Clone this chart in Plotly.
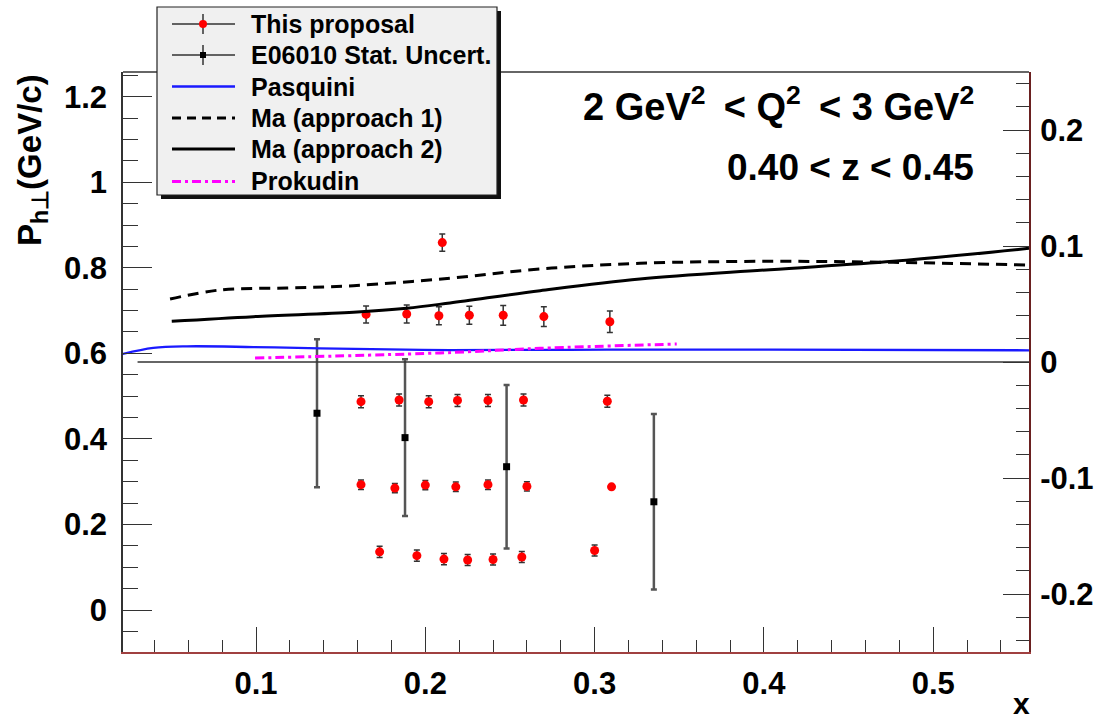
import plotly.graph_objects as go

# ---------------- data ----------------
# "This proposal" projected points (x, P_h_perp, uncertainty)
prop_x = [0.210,
          0.165, 0.189, 0.208, 0.226, 0.246, 0.270, 0.309,
          0.162, 0.1845, 0.202, 0.219, 0.237, 0.258, 0.3075,
          0.162, 0.182, 0.200, 0.218, 0.237, 0.260, 0.310,
          0.173, 0.195, 0.211, 0.225, 0.240, 0.257, 0.300]
prop_y = [0.859,
          0.691, 0.692, 0.688, 0.689, 0.689, 0.686, 0.674,
          0.487, 0.491, 0.487, 0.490, 0.490, 0.491, 0.488,
          0.293, 0.285, 0.292, 0.288, 0.293, 0.289, 0.288,
          0.136, 0.127, 0.119, 0.117, 0.118, 0.124, 0.139]
prop_err = [0.020,
            0.020, 0.021, 0.021, 0.021, 0.023, 0.023, 0.025,
            0.014, 0.014, 0.014, 0.014, 0.014, 0.014, 0.014,
            0.011, 0.011, 0.011, 0.011, 0.011, 0.011, 0.0,
            0.013, 0.013, 0.013, 0.013, 0.013, 0.013, 0.013]

# E06010 statistical uncertainty points
e06_x = [0.136, 0.188, 0.248, 0.335]
e06_y = [0.460, 0.403, 0.335, 0.253]
e06_err = [0.173, 0.183, 0.191, 0.205]

# model curves (right axis: asymmetry)
pasq_x = [0.0213, 0.0393, 0.0591, 0.0984, 0.1378, 0.2146, 0.3072, 0.4036, 0.5566]
pasq_y = [0.0069, 0.0121, 0.0135, 0.0129, 0.0118, 0.0103, 0.0106, 0.0106, 0.0101]

ma1_x = [0.0492, 0.0787, 0.1181, 0.1575, 0.2146, 0.2678, 0.3268, 0.4036, 0.4763, 0.5566]
ma1_y = [0.0543, 0.0621, 0.0638, 0.0658, 0.0722, 0.0802, 0.0851, 0.0868, 0.0859, 0.0836]

ma2_x = [0.0502, 0.0984, 0.1575, 0.1890, 0.2146, 0.2678, 0.3268, 0.4036, 0.4763, 0.5566]
ma2_y = [0.0351, 0.0391, 0.0428, 0.0463, 0.0509, 0.0615, 0.0716, 0.0796, 0.0868, 0.0980]

prok_x = [0.0994, 0.2087, 0.2678, 0.3485]
prok_y = [0.0034, 0.0078, 0.0118, 0.0155]

zero_x = [0.030, 0.5566]
zero_y = [0.0, 0.0]

legend_labels = ["This proposal", "E06010 Stat. Uncert.", "Pasquini",
                 "Ma (approach 1)", "Ma (approach 2)", "Prokudin"]

right_tickvals = [-0.2, -0.1, 0.0, 0.1, 0.2]
right_ticktext = ["-0.2", "-0.1", "0", "0.1", "0.2"]

# ---------------- layout constants ----------------
W, H = 1097, 724
L, R, T, B = 123, 1029, 72, 652
FONT = "Liberation Sans, Arial, sans-serif"


def xp(px):
    return (px - L) / (R - L)


def yp(py):
    return (B - py) / (B - T)


fig = go.Figure()

# zero line of asymmetry axis
fig.add_trace(go.Scatter(x=zero_x, y=zero_y, yaxis="y2", mode="lines",
                         line=dict(color="#333333", width=1.3), hoverinfo="skip",
                         showlegend=False))

fig.add_trace(go.Scatter(x=pasq_x, y=pasq_y, yaxis="y2", mode="lines", name="Pasquini",
                         line=dict(color="#1a1aff", width=2.3, shape="spline"),
                         showlegend=False))
fig.add_trace(go.Scatter(x=ma1_x, y=ma1_y, yaxis="y2", mode="lines", name="Ma (approach 1)",
                         line=dict(color="black", width=3, dash="11px,7px", shape="spline"),
                         showlegend=False))
fig.add_trace(go.Scatter(x=ma2_x, y=ma2_y, yaxis="y2", mode="lines", name="Ma (approach 2)",
                         line=dict(color="black", width=3, shape="spline"),
                         showlegend=False))
fig.add_trace(go.Scatter(x=prok_x, y=prok_y, yaxis="y2", mode="lines", name="Prokudin",
                         line=dict(color="#ff00ff", width=3, dash="9px,4px,3px,4px", shape="spline"),
                         showlegend=False))

fig.add_trace(go.Scatter(x=e06_x, y=e06_y, mode="markers", name="E06010 Stat. Uncert.",
                         marker=dict(symbol="square", size=7, color="black"),
                         error_y=dict(type="data", array=e06_err, color="#555555",
                                      thickness=2.5, width=3),
                         showlegend=False))
fig.add_trace(go.Scatter(x=prop_x, y=prop_y, mode="markers", name="This proposal",
                         marker=dict(symbol="circle", size=9, color="#ff0000"),
                         error_y=dict(type="data", array=prop_err, color="#333333",
                                      thickness=1.5, width=3),
                         showlegend=False))

# ---------------- shapes: frame top and custom legend ----------------
shapes = []
shapes.append(dict(type="line", xref="paper", yref="paper", x0=0, x1=1, y0=1, y1=1,
                   line=dict(color="#333333", width=1.5), layer="above"))
# legend shadow + box
lx0, ly0, lx1, ly1 = 157, 7, 497, 195
shapes.append(dict(type="rect", xref="paper", yref="paper",
                   x0=xp(lx0 + 4), x1=xp(lx1 + 4), y0=yp(ly1 + 4), y1=yp(ly0 + 4),
                   fillcolor="#111111", line=dict(width=0), layer="above"))
shapes.append(dict(type="rect", xref="paper", yref="paper",
                   x0=xp(lx0), x1=xp(lx1), y0=yp(ly1), y1=yp(ly0),
                   fillcolor="#f0f0f0", line=dict(color="#222222", width=1.2), layer="above"))

rows = [24, 55, 86.5, 118, 149, 181.5]
sx0, sx1, sxm = 172, 235, 203
# row 1 & 2: horizontal line with vertical bar and marker
for i in (0, 1):
    ry = rows[i]
    shapes.append(dict(type="line", xref="paper", yref="paper", x0=xp(sx0), x1=xp(sx1),
                       y0=yp(ry), y1=yp(ry), line=dict(color="#333333", width=1.5), layer="above"))
    shapes.append(dict(type="line", xref="paper", yref="paper", x0=xp(sxm), x1=xp(sxm),
                       y0=yp(ry - 10), y1=yp(ry + 10), line=dict(color="#333333", width=1.5),
                       layer="above"))
# red circle marker
shapes.append(dict(type="circle", xref="paper", yref="paper", x0=xp(sxm - 4), x1=xp(sxm + 4),
                   y0=yp(rows[0] + 4), y1=yp(rows[0] - 4), fillcolor="#ff0000",
                   line=dict(width=0), layer="above"))
# black small marker
shapes.append(dict(type="rect", xref="paper", yref="paper", x0=xp(sxm - 3), x1=xp(sxm + 3),
                   y0=yp(rows[1] + 3), y1=yp(rows[1] - 3), fillcolor="black",
                   line=dict(width=0), layer="above"))
# model lines
shapes.append(dict(type="line", xref="paper", yref="paper", x0=xp(sx0), x1=xp(sx1),
                   y0=yp(rows[2]), y1=yp(rows[2]), line=dict(color="#1a1aff", width=2.3), layer="above"))
shapes.append(dict(type="line", xref="paper", yref="paper", x0=xp(sx0), x1=xp(sx1),
                   y0=yp(rows[3]), y1=yp(rows[3]), line=dict(color="black", width=3, dash="9px,6px"),
                   layer="above"))
shapes.append(dict(type="line", xref="paper", yref="paper", x0=xp(sx0), x1=xp(sx1),
                   y0=yp(rows[4]), y1=yp(rows[4]), line=dict(color="black", width=3), layer="above"))
shapes.append(dict(type="line", xref="paper", yref="paper", x0=xp(sx0), x1=xp(sx1),
                   y0=yp(rows[5]), y1=yp(rows[5]),
                   line=dict(color="#ff00ff", width=3, dash="9px,4px,3px,4px"), layer="above"))

annotations = []
for lab, ry in zip(legend_labels, rows):
    annotations.append(dict(text=lab, xref="paper", yref="paper", x=xp(249), y=yp(ry),
                            xanchor="left", yanchor="middle", showarrow=False,
                            font=dict(family=FONT, size=25, color="black", weight="bold")))

annotations.append(dict(text="2 GeV<sup>2</sup>\u2009 &lt; Q<sup>2</sup>\u2009 &lt; 3 GeV<sup>2</sup>",
                        xref="paper", yref="paper", x=xp(976), y=yp(104), xanchor="right",
                        yanchor="middle", showarrow=False,
                        font=dict(family=FONT, size=38, color="black", weight="bold")))
annotations.append(dict(text="0.40 &lt; z &lt; 0.45",
                        xref="paper", yref="paper", x=xp(976), y=yp(167), xanchor="right",
                        yanchor="middle", showarrow=False,
                        font=dict(family=FONT, size=37, color="black", weight="bold")))
annotations.append(dict(text="P<sub>h⊥</sub>(GeV/c)", textangle=-90,
                        xref="paper", yref="paper", x=xp(32), y=yp(72), xanchor="center",
                        yanchor="top", showarrow=False,
                        font=dict(family=FONT, size=33, color="black", weight="bold")))
annotations.append(dict(text="x", xref="paper", yref="paper", x=xp(1021), y=yp(722),
                        xanchor="center", yanchor="bottom", showarrow=False,
                        font=dict(family=FONT, size=30, color="black", weight="bold")))

tickfont = dict(family=FONT, size=31, color="black", weight="bold")

fig.update_layout(
    width=W, height=H,
    margin=dict(l=L, r=W - R, t=T, b=H - B, autoexpand=False),
    paper_bgcolor="white", plot_bgcolor="white",
    showlegend=False,
    shapes=shapes, annotations=annotations,
    xaxis=dict(range=[0.0214, 0.5566], tick0=0, dtick=0.1, ticks="inside", ticklen=25,
               tickcolor="#333333", tickwidth=1.3, showgrid=False, zeroline=False,
               showline=True, linecolor="#a04040", linewidth=2, tickformat=".1f",
               automargin=False,
               minor=dict(dtick=0.02, ticks="inside", ticklen=12, tickcolor="#333333",
                          tickwidth=1.3, showgrid=False),
               tickfont=tickfont, ticklabelstandoff=3),
    yaxis=dict(range=[-0.0982, 1.2578], tick0=0, dtick=0.2, ticks="inside", ticklen=29,
               tickcolor="#333333", tickwidth=1.3, showgrid=False, zeroline=False,
               showline=True, linecolor="#333333", linewidth=1.5, automargin=False,
               minor=dict(dtick=0.05, ticks="inside", ticklen=15, tickcolor="#333333",
                          tickwidth=1.3, showgrid=False),
               tickfont=tickfont, ticklabelstandoff=8),
    yaxis2=dict(range=[-0.25, 0.25], tickmode="array", tickvals=right_tickvals,
                ticktext=right_ticktext, overlaying="y", side="right",
                ticks="inside", ticklen=26, tickcolor="#333333", tickwidth=1.3,
                showgrid=False, zeroline=False, showline=True, linecolor="#6a2020",
                linewidth=2, automargin=False,
                minor=dict(tick0=0, dtick=0.02, ticks="inside", ticklen=13, tickcolor="#333333",
                           tickwidth=1.3, showgrid=False),
                tickfont=tickfont, ticklabelstandoff=3),
)

fig.write_html("out.html", config={"displayModeBar": False},
               post_script="document.body.style.margin='0px';document.body.style.overflow='hidden';")
